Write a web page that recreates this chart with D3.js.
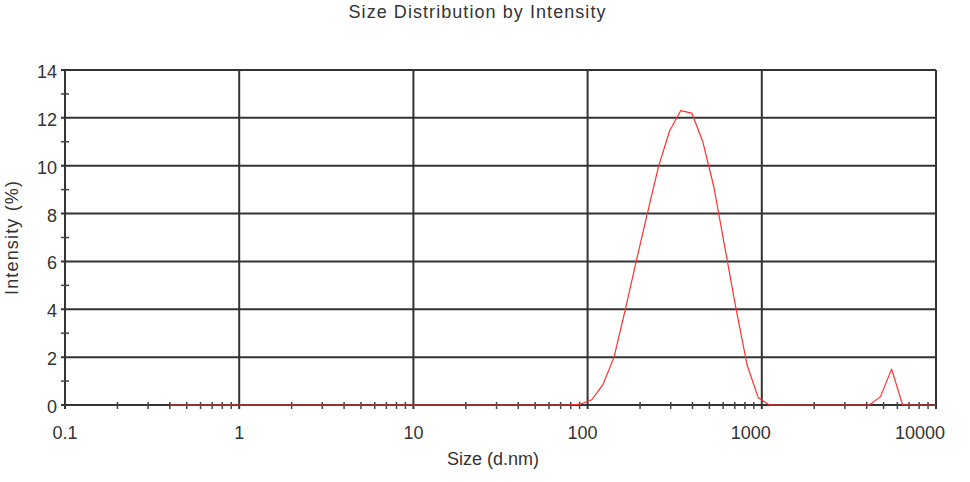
<!DOCTYPE html>
<html>
<head>
<meta charset="utf-8">
<script src="https://cdn.jsdelivr.net/npm/d3@7/dist/d3.min.js"></script>
<style>
  html, body { margin: 0; padding: 0; background: #fff; }
  svg { display: block; }
  text { font-family: "Liberation Sans", Arial, sans-serif; fill: #333; }
</style>
</head>
<body>
<svg id="chart" width="970" height="482"></svg>
<script>
// ---- data ----
const sizes = [0.4, 0.4632, 0.5365, 0.6213, 0.7195, 0.8332, 0.9650, 1.117, 1.294, 1.499,
  1.736, 2.010, 2.328, 2.696, 3.122, 3.615, 4.187, 4.849, 5.615, 6.503,
  7.531, 8.721, 10.10, 11.70, 13.54, 15.69, 18.17, 21.04, 24.36, 28.21,
  32.67, 37.84, 43.82, 50.75, 58.77, 68.06, 78.82, 91.28, 105.7, 122.4,
  141.8, 164.2, 190.1, 220.2, 255.0, 295.3, 342.0, 396.1, 458.7, 531.2,
  615.1, 712.4, 825.0, 955.4, 1106, 1281, 1484, 1718, 1990, 2305,
  2669, 3091, 3580, 4145, 4801, 5560, 6439, 7456, 8635, 10000];
const intensity = [0, 0, 0, 0, 0, 0, 0, 0, 0, 0,
  0, 0, 0, 0, 0, 0, 0, 0, 0, 0,
  0, 0, 0, 0, 0, 0, 0, 0, 0, 0,
  0, 0, 0, 0, 0, 0, 0, 0.04, 0.22, 0.85,
  2.0, 3.95, 6.0, 8.0, 9.95, 11.45, 12.3, 12.2, 11.0, 9.1,
  6.55, 4.0, 1.65, 0.3, 0, 0, 0, 0, 0, 0,
  0, 0, 0, 0, 0.35, 1.5, 0, 0, 0, 0];
const xTickValues = [0.1, 1, 10, 100, 1000, 10000];
const xTickLabels = ["0.1", "1", "10", "100", "1000", "10000"];
const xLabelShift = [0, 0, 0, -5, -11, -16];
const yTickValues = [0, 2, 4, 6, 8, 10, 12, 14];
const yMinorValues = [1, 3, 5, 7, 9, 11, 13];
const title = "Size Distribution by Intensity";
const xTitle = "Size (d.nm)";
const yTitle = "Intensity (%)";

// ---- layout ----
const L = 65, R = 936, T = 70, B = 405;
const svg = d3.select("#chart");
const x = d3.scaleLog().domain([0.1, 10000]).range([L, R]);
const y = d3.scaleLinear().domain([0, 14]).range([B, T]);
const gridColor = "#333";

// minor x ticks (2..9 in each decade)
const xMinor = [];
for (let d = 0.1; d < 10000; d *= 10) for (let k = 2; k <= 9; k++) xMinor.push(+(d * k).toPrecision(3));

const g = svg.append("g");

g.selectAll(".hg").data(yTickValues).join("line")
  .attr("x1", L - 4).attr("x2", R)
  .attr("y1", d => y(d)).attr("y2", d => y(d))
  .attr("stroke", gridColor).attr("stroke-width", 2);

g.selectAll(".vg").data(xTickValues).join("line")
  .attr("x1", d => x(d)).attr("x2", d => x(d))
  .attr("y1", T).attr("y2", B + 4)
  .attr("stroke", gridColor).attr("stroke-width", 2);

g.selectAll(".xm").data(xMinor).join("line")
  .attr("x1", d => x(d)).attr("x2", d => x(d))
  .attr("y1", B - 3).attr("y2", B + 4)
  .attr("stroke", "#444").attr("stroke-width", 1.5);
g.selectAll(".ym").data(yMinorValues).join("line")
  .attr("x1", L - 4).attr("x2", L + 4)
  .attr("y1", d => y(d)).attr("y2", d => y(d))
  .attr("stroke", "#444").attr("stroke-width", 1.5);

const line = d3.line().x((d, i) => x(sizes[i])).y(d => y(d));
g.append("path").datum(intensity)
  .attr("d", line)
  .attr("fill", "none")
  .attr("stroke", "#ff3030")
  .attr("stroke-width", 1.2)
  .attr("stroke-linejoin", "round");

g.selectAll(".xl").data(xTickValues).join("text")
  .attr("x", (d, i) => x(d) + xLabelShift[i]).attr("y", 439)
  .attr("text-anchor", "middle").attr("font-size", 18)
  .text((d, i) => xTickLabels[i]);
g.selectAll(".yl").data(yTickValues).join("text")
  .attr("x", 57).attr("y", d => y(d) + 8)
  .attr("text-anchor", "end").attr("font-size", 18)
  .text(d => d);

svg.append("text").attr("x", 477).attr("y", 18)
  .attr("text-anchor", "middle").attr("font-size", 18)
  .attr("textLength", 257)
  .text(title);
svg.append("text").attr("x", 493).attr("y", 465)
  .attr("text-anchor", "middle").attr("font-size", 18)
  .text(xTitle);
svg.append("text").attr("transform", "translate(18,238) rotate(-90)")
  .attr("text-anchor", "middle").attr("font-size", 18)
  .attr("textLength", 114)
  .text(yTitle);
</script>
</body>
</html>
